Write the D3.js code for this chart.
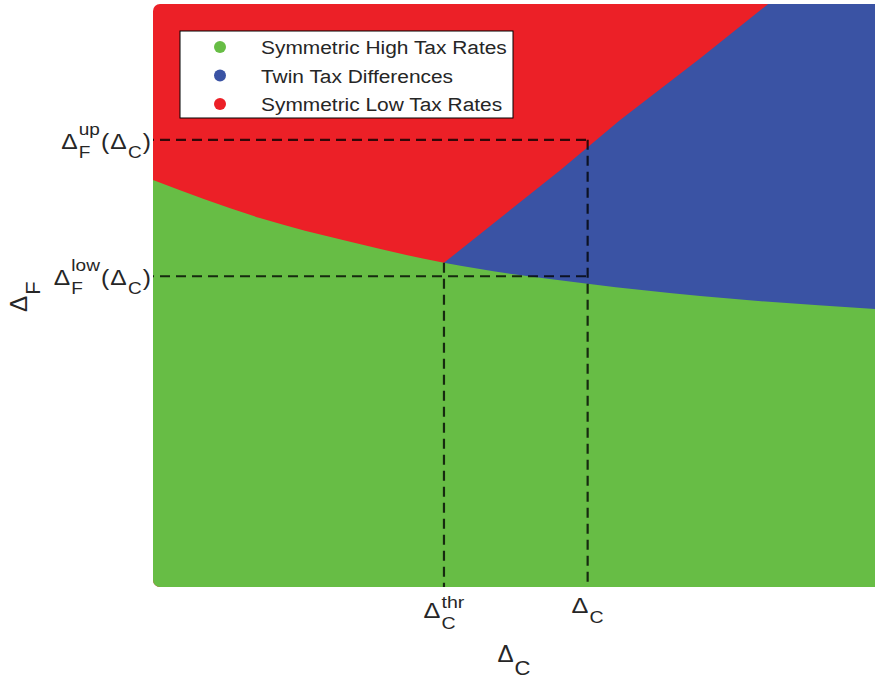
<!DOCTYPE html>
<html>
<head>
<meta charset="utf-8">
<script src="https://cdn.jsdelivr.net/npm/d3@7/dist/d3.min.js"></script>
<style>
  html, body { margin: 0; padding: 0; background: #fff; }
  svg { display: block; }
  text { font-family: "Liberation Sans", Arial, sans-serif; fill: #262626; }
</style>
</head>
<body>
<svg id="chart" width="875" height="680"></svg>
<script>
// Equilibrium regions in the (Δ_C, Δ_F) plane
const regionNames = ["Symmetric High Tax Rates", "Twin Tax Differences", "Symmetric Low Tax Rates"];
const regionColors = ["#67bd45", "#3a53a4", "#ec2027"];

// Lower boundary Δ_F^low(Δ_C): below it, symmetric high tax rates
const lowBoundaryX = [0.000, 0.148, 0.273, 0.403, 0.602, 0.758, 1.000, 1.050];
const lowBoundaryY = [0.698, 0.633, 0.592, 0.556, 0.520, 0.499, 0.477, 0.473];

// Upper boundary Δ_F^up(Δ_C): above it, symmetric low tax rates
const upBoundaryX = [0.403, 0.564, 0.647, 0.758, 0.852];
const upBoundaryY = [0.556, 0.715, 0.801, 0.907, 1.000];

// Marked reference values
const deltaCThr = 0.403;
const deltaC = 0.602;
const deltaFUp = 0.767;
const deltaFLow = 0.533;

const svg = d3.select("#chart");
const x = d3.scaleLinear().domain([0, 1]).range([153, 875]);
const y = d3.scaleLinear().domain([0, 1]).range([587, 4]);
const xMax = 1.05;

const lowPts = lowBoundaryX.map((v, i) => [v, lowBoundaryY[i]]);
const upPts = upBoundaryX.map((v, i) => [v, upBoundaryY[i]]);
const line = d3.line().x(d => x(d[0])).y(d => y(d[1]));

// plot clip with rounded left corners
svg.append("clipPath").attr("id", "plotClip")
  .append("rect")
  .attr("x", x(0)).attr("y", y(1))
  .attr("width", x(xMax) - x(0)).attr("height", y(0) - y(1))
  .attr("rx", 7).attr("ry", 7);

const plot = svg.append("g").attr("clip-path", "url(#plotClip)");

// Symmetric low tax rates as the base layer
plot.append("rect")
  .attr("x", x(0)).attr("y", y(1))
  .attr("width", x(xMax) - x(0)).attr("height", y(0) - y(1))
  .attr("fill", regionColors[2]);

// Twin tax differences: right of the upper boundary
const bluePoly = upPts.concat([[xMax, 1], [xMax, 0], [deltaCThr, 0]]);
plot.append("path")
  .datum(bluePoly)
  .attr("fill", regionColors[1])
  .attr("d", d => line(d) + "Z");

// Symmetric high tax rates: below the lower boundary
plot.append("path")
  .datum(lowPts)
  .attr("fill", regionColors[0])
  .attr("d", d3.area().curve(d3.curveMonotoneX)
    .x(d => x(d[0])).y0(y(0)).y1(d => y(d[1])));

// dashed guide lines
const guides = [
  [[0, deltaFUp], [deltaC, deltaFUp]],
  [[0, deltaFLow], [deltaC, deltaFLow]],
  [[deltaC, deltaFUp], [deltaC, 0]],
  [[deltaCThr, lowBoundaryY[lowBoundaryX.indexOf(deltaCThr)]], [deltaCThr, 0]]
];
svg.append("g").selectAll("path").data(guides).join("path")
  .attr("d", line)
  .attr("fill", "none")
  .attr("stroke", "#000")
  .attr("stroke-opacity", 0.78)
  .attr("stroke-width", 2.2)
  .attr("stroke-dasharray", "10,6")
  .attr("stroke-dashoffset", (d, i) => i < 2 ? -7 : 0);

// legend
const legend = svg.append("g").attr("transform", "translate(180,31)");
legend.append("rect").attr("width", 333).attr("height", 87)
  .attr("fill", "#fff").attr("stroke", "#000").attr("stroke-width", 1);
const rows = legend.selectAll("g.row").data(regionNames).join("g")
  .attr("class", "row")
  .attr("transform", (d, i) => `translate(0,${16 + i * 28.5})`);
rows.append("circle").attr("cx", 40).attr("cy", 0).attr("r", 6)
  .attr("fill", (d, i) => regionColors[i]);
rows.append("text")
  .attr("transform", "translate(81,7) scale(1.1,1)")
  .style("font-size", "19px").text(d => d);

// math label builder: pieces of {base, sub, sup} or {text}
function mathLabel(parent, pieces, opts) {
  const outer = parent.append("g");
  const g = outer.append("g").attr("transform", `scale(${opts.sx || 1},1)`);
  let cx = 0;
  pieces.forEach(p => {
    const base = g.append("text").attr("x", cx).attr("y", 0)
      .style("font-size", opts.base + "px").text(p.base || p.text);
    cx += base.node().getComputedTextLength();
    let w = 0;
    if (p.sup) {
      const t = g.append("text").attr("x", cx + 1).attr("y", opts.supDy)
        .style("font-size", opts.small + "px").text(p.sup);
      w = Math.max(w, t.node().getComputedTextLength() + 1);
    }
    if (p.sub) {
      const t = g.append("text").attr("x", cx + 1).attr("y", opts.subDy)
        .style("font-size", opts.small + "px").text(p.sub);
      w = Math.max(w, t.node().getComputedTextLength() + 1);
    }
    cx += w + (opts.gap || 0);
  });
  cx -= (opts.gap || 0);
  return { g: outer, width: cx * (opts.sx || 1) };
}

const yTickOpts = { base: 22, small: 17, supDy: -14, subDy: 9, sx: 1.12, gap: 1 };
const xTickOpts = { base: 22, small: 17, supDy: -10, subDy: 11, sx: 1.15, gap: 1 };

// y tick labels, right aligned at the axis
[[deltaFUp, [{ base: "Δ", sub: "F", sup: "up" }, { text: "(" }, { base: "Δ", sub: "C" }, { text: ")" }]],
 [deltaFLow, [{ base: "Δ", sub: "F", sup: "low" }, { text: "(" }, { base: "Δ", sub: "C" }, { text: ")" }]]]
  .forEach(([v, pieces]) => {
    const m = mathLabel(svg, pieces, yTickOpts);
    m.g.attr("transform", `translate(${x(0) - 2 - m.width},${y(v) + 9})`);
  });

// x tick labels, centred on the guide lines
[[deltaCThr, [{ base: "Δ", sub: "C", sup: "thr" }], 31],
 [deltaC, [{ base: "Δ", sub: "C" }], 26]]
  .forEach(([v, pieces, dy]) => {
    const m = mathLabel(svg, pieces, Object.assign({}, xTickOpts, { subDy: pieces[0].sup ? 11 : 10 }));
    m.g.attr("transform", `translate(${x(v) - m.width / 2},${y(0) + dy})`);
  });

// axis titles
const titleOpts = { base: 23, small: 21, supDy: -13, subDy: 13, sx: 1.05, gap: 0 };
const xt = mathLabel(svg, [{ base: "Δ", sub: "C" }], titleOpts);
xt.g.attr("transform", `translate(${x(0.5) - xt.width / 2},662)`);

const yt = mathLabel(svg, [{ base: "Δ", sub: "F" }], titleOpts);
yt.g.attr("transform", `translate(27,312) rotate(-90)`);
</script>
</body>
</html>
